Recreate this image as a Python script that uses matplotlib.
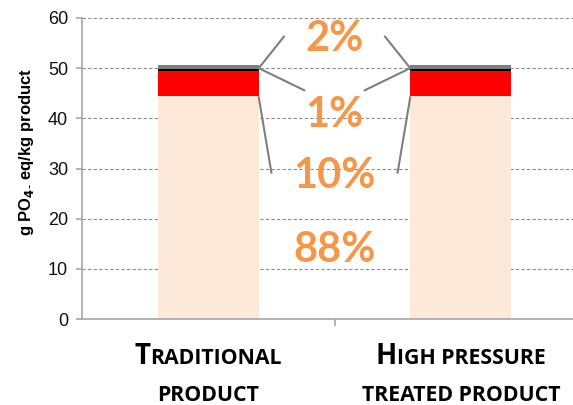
"Eutrophication potential per kg of product, split by life-cycle stage."

import matplotlib
matplotlib.use("Agg")
from matplotlib import pyplot as plt

# ---------------------------------------------------------------------------
# Data
# ---------------------------------------------------------------------------
products = [("T", "RADITIONAL", "PRODUCT"), ("H", "IGH PRESSURE", "TREATED PRODUCT")]
stage_main = [44.4, 44.4]      # 88 %
stage_second = [5.1, 5.1]      # 10 %
stage_third = [0.25, 0.25]     # 1 %
stage_fourth = [0.85, 0.85]    # 2 %
share_labels = ["2%", "1%", "10%", "88%"]
share_label_y = [55.9, 40.7, 28.5, 13.8]
y_ticks = [0, 10, 20, 30, 40, 50, 60]

ORANGE = "#F79646"
LEADER = "#7F7F7F"

fig = plt.figure(figsize=(5.73, 4.05), dpi=100)
# axes run past the right edge of the figure on purpose
ax = fig.add_axes([82 / 573, 1 - 319 / 405, 505 / 573, 301 / 405])

x = [0, 1]
width = 0.40
bottom = [0.0, 0.0]
for vals, col in [(stage_main, "#FDE9D9"), (stage_second, "#FF0000"),
                  (stage_third, "#000000"), (stage_fourth, "#808080")]:
    ax.bar(x, vals, width, bottom=bottom, color=col, zorder=2)
    bottom = [b + v for b, v in zip(bottom, vals)]

ax.set_xlim(-0.5, 1.5)
ax.set_ylim(0, 60)
ax.set_yticks(y_ticks)
ax.set_xticks([0.5])
ax.set_xticklabels([""])
ax.yaxis.grid(True, linestyle=(0, (3, 2)), color="#8C8C8C", linewidth=0.8, zorder=0)
for side in ("top", "right"):
    ax.spines[side].set_visible(False)
for side in ("left", "bottom"):
    ax.spines[side].set_color("#A6A6A6")
    ax.spines[side].set_linewidth(1.2)
ax.tick_params(axis="y", direction="out", length=4, color="#A6A6A6", width=1.2,
               labelsize=13, labelcolor="#111111", pad=6)
ax.tick_params(axis="x", direction="out", length=5, color="#A6A6A6", width=1.2)
for lbl in ax.get_yticklabels():
    lbl.set_family("Liberation Sans")

fig.text(27 / 573, 1 - 152 / 405, r"g PO$_{\mathbf{4}\text{-}}$ eq/kg product",
         rotation=90, ha="center", va="center", fontsize=12, fontweight="bold",
         family="Liberation Sans")

# percentage labels between the bars
for txt, yy in zip(share_labels, share_label_y):
    ax.text(0.5, yy, txt, ha="center", va="center", fontsize=30, fontweight="bold",
            color=ORANGE, family="Lato", zorder=4)

# leader lines from the labels to the bar segments
total = [b for b in bottom]
for i, sign in [(0, 1), (1, -1)]:
    edge = x[i] + sign * width / 2
    ax.plot([edge, edge + sign * 0.10], [total[i] - 0.6, 56.3], color=LEADER, lw=1.5, zorder=3)
    ax.plot([edge, edge + sign * 0.18], [total[i] - 0.6, 45.6], color=LEADER, lw=1.5, zorder=3)
    ax.plot([edge, edge + sign * 0.05], [stage_main[i] - 0.2, 29.2], color=LEADER, lw=1.5, zorder=3)

# small-caps category labels: a large initial followed by smaller capitals
renderer = fig.canvas.get_renderer()
label_style = dict(xycoords="data", textcoords="offset points", va="baseline",
                   fontweight="bold", family="Open Sans", annotation_clip=False)
for xi, (cap, rest, line2) in zip(x, products):
    t_cap = ax.annotate(cap, (xi, 0), xytext=(0, -32.4), ha="left", fontsize=20, **label_style)
    t_rest = ax.annotate(rest, (xi, 0), xytext=(0, -32.4), ha="left", fontsize=15.3, **label_style)
    w_cap = t_cap.get_window_extent(renderer).width * 72 / fig.dpi
    w_rest = t_rest.get_window_extent(renderer).width * 72 / fig.dpi
    start = -(w_cap + w_rest) / 2
    t_cap.set_position((start, -32.4))
    t_rest.set_position((start + w_cap, -32.4))
    ax.annotate(line2, (xi, 0), xytext=(0, -59), ha="center", fontsize=15.3, **label_style)

fig.savefig("out.png", dpi=100)
